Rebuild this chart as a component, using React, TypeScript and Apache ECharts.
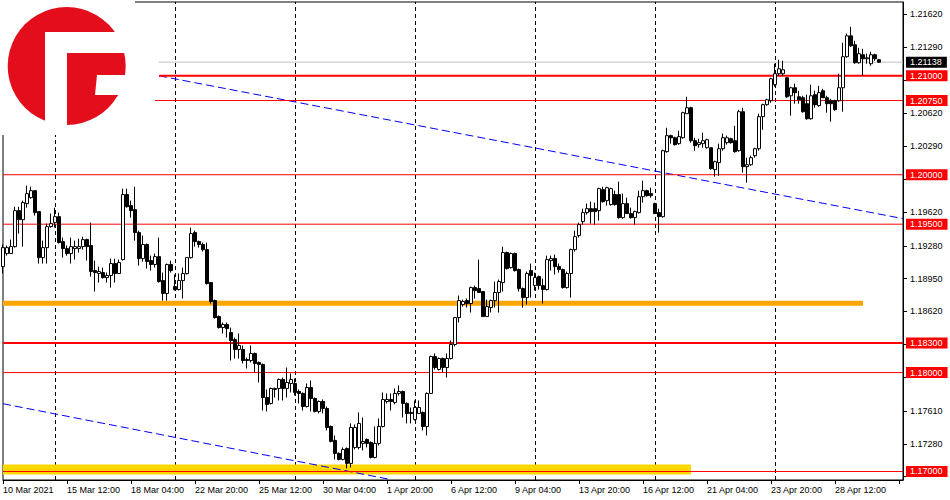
import React, { useEffect, useRef } from "react";
import * as echarts from "echarts";

// ---- Candle data (EURUSD H4) ----
const OPEN = [
  1.19071, 1.19203, 1.19203, 1.19273, 1.19637, 1.19546, 1.19708, 1.19768, 1.19839, 1.19627,
  1.19162, 1.19263, 1.19475, 1.19516, 1.19576, 1.19324, 1.19253, 1.19203, 1.19253, 1.19253,
  1.19273, 1.19344, 1.19284, 1.19031, 1.19001, 1.19011, 1.1896, 1.18981, 1.19102, 1.19001,
  1.19142, 1.19799, 1.19688, 1.19647, 1.19415, 1.19152, 1.19294, 1.19132, 1.19092, 1.19172,
  1.1893, 1.18799, 1.19092, 1.18869, 1.18839, 1.1893, 1.19001, 1.19162, 1.19415, 1.19324,
  1.19294, 1.19243, 1.1891, 1.18728, 1.18566, 1.18455, 1.18486, 1.18405, 1.18334, 1.18233,
  1.18233, 1.18132, 1.18122, 1.18193, 1.18102, 1.18082, 1.17748, 1.17688, 1.17829, 1.17839,
  1.1793, 1.17839, 1.1789, 1.1789, 1.17809, 1.17789, 1.17657, 1.17849, 1.17738, 1.17607,
  1.17708, 1.17637, 1.17455, 1.17314, 1.17183, 1.17122, 1.17233, 1.17082, 1.17243, 1.17243,
  1.17284, 1.17324, 1.17294, 1.17142, 1.17284, 1.17455, 1.17708, 1.17728, 1.17698, 1.17789,
  1.17809, 1.17688, 1.17597, 1.17526, 1.17587, 1.17597, 1.17455, 1.17789, 1.18162, 1.18031,
  1.18142, 1.18051, 1.18142, 1.18284, 1.18556, 1.18688, 1.18728, 1.18698, 1.18859, 1.18849,
  1.18819, 1.18566, 1.18657, 1.18728, 1.18809, 1.1891, 1.19213, 1.19061, 1.19203, 1.19041,
  1.18849, 1.18758, 1.19031, 1.18879, 1.1897, 1.18879, 1.18839, 1.19132, 1.19152, 1.19071,
  1.19041, 1.18859, 1.19001, 1.19243, 1.19385, 1.19526, 1.19617, 1.19657, 1.19657, 1.19637,
  1.19849, 1.19738, 1.19698, 1.19799, 1.19799, 1.19566, 1.19708, 1.19607, 1.19566, 1.19617,
  1.19778, 1.19839, 1.19809, 1.19708, 1.19617, 1.19576, 1.20233, 1.20395, 1.20374, 1.20314,
  1.20374, 1.20617, 1.20677, 1.20344, 1.20304, 1.20314, 1.20273, 1.20273, 1.20051, 1.20122,
  1.20263, 1.20324, 1.20364, 1.20344, 1.20243, 1.20637, 1.20081, 1.20101, 1.20192, 1.20263,
  1.20587, 1.20708, 1.20748, 1.2091, 1.21021, 1.21021, 1.2098, 1.20798, 1.20879, 1.20788,
  1.20778, 1.20718, 1.20566, 1.20809, 1.20698, 1.20849, 1.20778, 1.20748, 1.20748, 1.20748,
  1.20879, 1.21193, 1.21404, 1.21314, 1.21132, 1.21213, 1.21172, 1.21122, 1.21213, 1.21162,
];
const CLOSE = [
  1.19263, 1.19263, 1.19273, 1.19637, 1.19546, 1.19718, 1.19809, 1.19839, 1.19617, 1.19162,
  1.19263, 1.19475, 1.19506, 1.19576, 1.19314, 1.19253, 1.19203, 1.19273, 1.19273, 1.19273,
  1.19344, 1.19273, 1.19021, 1.19011, 1.19021, 1.1896, 1.18981, 1.19102, 1.19001, 1.19112,
  1.19799, 1.19677, 1.19637, 1.19415, 1.19152, 1.19294, 1.19122, 1.19092, 1.19172, 1.1892,
  1.18799, 1.19092, 1.19031, 1.18839, 1.1893, 1.19001, 1.19162, 1.19405, 1.19324, 1.19294,
  1.19243, 1.189, 1.18718, 1.18556, 1.18455, 1.18486, 1.18445, 1.18324, 1.18233, 1.18274,
  1.18122, 1.18122, 1.18193, 1.18092, 1.18082, 1.17748, 1.17678, 1.17839, 1.17839, 1.1793,
  1.17839, 1.179, 1.1793, 1.17799, 1.17789, 1.17657, 1.17849, 1.17738, 1.17607, 1.17708,
  1.17637, 1.17445, 1.17304, 1.17183, 1.17122, 1.17223, 1.17082, 1.17445, 1.17445, 1.17486,
  1.17304, 1.17284, 1.17142, 1.17284, 1.17455, 1.17728, 1.17728, 1.17708, 1.17789, 1.17809,
  1.17688, 1.17587, 1.17587, 1.17647, 1.17647, 1.17455, 1.17789, 1.18162, 1.18051, 1.18142,
  1.18051, 1.18142, 1.18284, 1.18556, 1.18728, 1.18718, 1.18698, 1.18859, 1.18829, 1.18809,
  1.18566, 1.18667, 1.18728, 1.18809, 1.1892, 1.19213, 1.19051, 1.19203, 1.19031, 1.18849,
  1.18758, 1.19001, 1.18981, 1.1896, 1.18879, 1.18839, 1.19142, 1.19152, 1.19071, 1.19041,
  1.18859, 1.19001, 1.19243, 1.19374, 1.19496, 1.19617, 1.19657, 1.19627, 1.19627, 1.19859,
  1.19728, 1.19869, 1.19859, 1.19698, 1.19566, 1.19708, 1.19607, 1.19566, 1.19627, 1.19778,
  1.19839, 1.19789, 1.19789, 1.19607, 1.19576, 1.20243, 1.20395, 1.20374, 1.20304, 1.20385,
  1.20627, 1.20677, 1.20344, 1.20294, 1.20324, 1.20344, 1.20354, 1.20061, 1.20132, 1.20263,
  1.20374, 1.20374, 1.20324, 1.20233, 1.20637, 1.20081, 1.20101, 1.20172, 1.20263, 1.20587,
  1.20708, 1.20758, 1.2097, 1.21021, 1.21071, 1.21061, 1.20788, 1.20879, 1.20829, 1.20758,
  1.20637, 1.20566, 1.20798, 1.20708, 1.20829, 1.20778, 1.20718, 1.20718, 1.20657, 1.20879,
  1.21193, 1.21404, 1.21303, 1.21132, 1.21223, 1.21172, 1.21182, 1.21213, 1.21172, 1.21138,
];
const LOW = [
  1.19001, 1.19182, 1.19203, 1.19263, 1.19405, 1.19273, 1.19667, 1.19758, 1.19587, 1.19102,
  1.19102, 1.19102, 1.19465, 1.19465, 1.19304, 1.19162, 1.19182, 1.19102, 1.19142, 1.19213,
  1.19243, 1.19132, 1.1897, 1.18819, 1.1891, 1.1895, 1.1891, 1.18859, 1.1891, 1.19001,
  1.19132, 1.19667, 1.19566, 1.19334, 1.19082, 1.19122, 1.19051, 1.19031, 1.19061, 1.1891,
  1.18728, 1.18728, 1.19011, 1.18829, 1.18829, 1.18748, 1.18991, 1.19152, 1.19273, 1.19263,
  1.19223, 1.1889, 1.18698, 1.18546, 1.18445, 1.18395, 1.18354, 1.18122, 1.18142, 1.18142,
  1.18092, 1.18041, 1.18102, 1.18001, 1.179, 1.17617, 1.17607, 1.17678, 1.17748, 1.17718,
  1.17718, 1.17748, 1.17799, 1.17768, 1.17688, 1.17617, 1.17647, 1.17607, 1.17597, 1.17587,
  1.17587, 1.17415, 1.17294, 1.17122, 1.17112, 1.17112, 1.17031, 1.17041, 1.17223, 1.17223,
  1.17213, 1.17243, 1.17132, 1.17132, 1.17263, 1.17445, 1.17688, 1.17617, 1.17678, 1.17768,
  1.17546, 1.17486, 1.17486, 1.17516, 1.17587, 1.17415, 1.17364, 1.17789, 1.18031, 1.18021,
  1.18001, 1.1795, 1.18132, 1.18264, 1.18506, 1.18667, 1.18657, 1.18607, 1.18748, 1.18809,
  1.18566, 1.18566, 1.18607, 1.18657, 1.18607, 1.18819, 1.19041, 1.19051, 1.19021, 1.18819,
  1.18657, 1.18688, 1.18758, 1.18829, 1.18839, 1.18698, 1.18829, 1.19031, 1.18991, 1.19011,
  1.18849, 1.18849, 1.18758, 1.19223, 1.19364, 1.19496, 1.19597, 1.19506, 1.19496, 1.19536,
  1.19718, 1.19688, 1.19688, 1.19688, 1.19556, 1.19556, 1.19607, 1.19556, 1.19496, 1.19607,
  1.19718, 1.19778, 1.19768, 1.19607, 1.19415, 1.19566, 1.20223, 1.20314, 1.20294, 1.20304,
  1.20364, 1.20617, 1.20324, 1.20243, 1.20273, 1.20273, 1.20263, 1.20051, 1.1998, 1.1999,
  1.20243, 1.20304, 1.20314, 1.20223, 1.20233, 1.20021, 1.1992, 1.20091, 1.20172, 1.20243,
  1.20455, 1.20698, 1.20728, 1.20889, 1.21, 1.21, 1.20778, 1.20597, 1.20718, 1.20718,
  1.20627, 1.20556, 1.20556, 1.20677, 1.20687, 1.20778, 1.20627, 1.20536, 1.20647, 1.20738,
  1.20637, 1.21182, 1.21293, 1.21122, 1.21122, 1.21, 1.21122, 1.21101, 1.21152, 1.21132,
];
const HIGH = [
  1.19294, 1.19284, 1.19344, 1.19677, 1.19677, 1.19738, 1.1989, 1.19879, 1.19839, 1.19627,
  1.19334, 1.19506, 1.19607, 1.19667, 1.19617, 1.19364, 1.19284, 1.19364, 1.19334, 1.19354,
  1.19374, 1.19354, 1.19516, 1.19132, 1.19071, 1.19061, 1.19011, 1.19152, 1.19152, 1.19142,
  1.19859, 1.19859, 1.19738, 1.19879, 1.19435, 1.19385, 1.19304, 1.19182, 1.19203, 1.19364,
  1.19011, 1.19102, 1.19132, 1.18991, 1.19001, 1.19061, 1.19162, 1.19465, 1.19435, 1.19334,
  1.19314, 1.19314, 1.1891, 1.18738, 1.18577, 1.18506, 1.18506, 1.18455, 1.18354, 1.18395,
  1.18274, 1.18152, 1.18274, 1.18203, 1.18112, 1.18092, 1.17829, 1.17849, 1.17849, 1.1794,
  1.1795, 1.18051, 1.17991, 1.1794, 1.17829, 1.17799, 1.1789, 1.1792, 1.17748, 1.17718,
  1.17728, 1.17657, 1.17465, 1.17364, 1.17193, 1.17243, 1.17243, 1.17486, 1.17476, 1.17597,
  1.17546, 1.17334, 1.17304, 1.17455, 1.17536, 1.17799, 1.17789, 1.17789, 1.17839, 1.1787,
  1.17819, 1.17698, 1.17647, 1.17718, 1.17718, 1.17607, 1.17799, 1.18172, 1.18193, 1.18152,
  1.18152, 1.18193, 1.18324, 1.18556, 1.18778, 1.18738, 1.18748, 1.18869, 1.18879, 1.19142,
  1.18819, 1.18738, 1.18738, 1.1892, 1.1894, 1.19273, 1.19223, 1.19213, 1.19213, 1.19051,
  1.18859, 1.19021, 1.19102, 1.19011, 1.18981, 1.1895, 1.19182, 1.19182, 1.19192, 1.19102,
  1.19051, 1.19021, 1.19253, 1.19435, 1.19516, 1.19657, 1.19708, 1.19728, 1.19718, 1.19869,
  1.19879, 1.19879, 1.19869, 1.19839, 1.1993, 1.19809, 1.19768, 1.19667, 1.19637, 1.19839,
  1.1994, 1.19849, 1.19869, 1.19718, 1.19657, 1.20253, 1.20475, 1.20405, 1.20385, 1.20445,
  1.20637, 1.20788, 1.20687, 1.20374, 1.20364, 1.20425, 1.20364, 1.20273, 1.20142, 1.20314,
  1.20415, 1.20395, 1.20374, 1.20495, 1.20657, 1.20677, 1.20172, 1.20192, 1.20273, 1.20617,
  1.20718, 1.20768, 1.2098, 1.21122, 1.21162, 1.21152, 1.2098, 1.20889, 1.2092, 1.20849,
  1.20798, 1.20809, 1.2091, 1.20849, 1.20899, 1.20869, 1.20798, 1.20768, 1.20758, 1.21021,
  1.21334, 1.21425, 1.21495, 1.21354, 1.21283, 1.21273, 1.21223, 1.21243, 1.21223, 1.21172,
];

// ---- Axis tick labels ----
const X_TICK_LABELS = [
  "10 Mar 2021", "15 Mar 12:00", "18 Mar 04:00", "22 Mar 20:00", "25 Mar 12:00",
  "30 Mar 04:00", "1 Apr 20:00", "6 Apr 12:00", "9 Apr 04:00", "13 Apr 20:00",
  "16 Apr 12:00", "21 Apr 04:00", "23 Apr 20:00", "28 Apr 12:00",
];
const Y_TICK_VALUES = [
  1.2162, 1.2129, 1.2095, 1.2062, 1.2029, 1.1995, 1.1962, 1.1928,
  1.1895, 1.1862, 1.1829, 1.1795, 1.1761, 1.1728, 1.1695,
];
const Y_LABEL_VALUES = [
  1.2162, 1.2129, 1.2062, 1.2029, 1.1962, 1.1928, 1.1895, 1.1862, 1.1761, 1.1728,
];

// ---- Horizontal levels & drawn objects ----
const RED_LEVELS = [1.21, 1.2075, 1.2, 1.195, 1.183, 1.18, 1.17];
const RED_LEVEL_START_BAR = [39, 38, 0, 0, 0, 0, 0];
const RED_LEVEL_BOLD = [true, false, false, false, true, false, false];
const BID_PRICE = 1.21138;
const BID_START_BAR = 39;
const ORANGE_ZONE = { price: 1.187, fromBar: 0, toBar: 215 };
const YELLOW_ZONE = { price: 1.1702, fromBar: 0, toBar: 172 };
const UPPER_TREND = [[39, 1.21], [225, 1.19556]];
const LOWER_TREND = [[0, 1.17685], [97, 1.16918]];
const WEEK_START_BARS = [13, 43, 73, 103, 133, 163, 193];

const TOTAL_SLOTS = 226;
const MONTHS = ["Jan", "Feb", "Mar", "Apr", "May", "Jun", "Jul", "Aug", "Sep", "Oct", "Nov", "Dec"];
const CATEGORIES: string[] = (() => {
  const out: string[] = [];
  let t = Date.UTC(2021, 2, 10, 20);
  while (out.length < TOTAL_SLOTS) {
    const d = new Date(t);
    const wd = d.getUTCDay();
    if (wd !== 0 && wd !== 6) {
      const hh = String(d.getUTCHours()).padStart(2, "0");
      out.push(`${d.getUTCDate()} ${MONTHS[d.getUTCMonth()]} ${hh}:00`);
    }
    t += 4 * 3600 * 1000;
  }
  return out;
})();

const FONT = "'Liberation Sans', Arial, sans-serif";

export default function App() {
  const ref = useRef<HTMLDivElement>(null);
  useEffect(() => {
    document.body.style.margin = "0";
    if (!ref.current) return;
    const chart = echarts.init(ref.current, undefined, { renderer: "svg" });

    const candleData = OPEN.map((o, i) => [o, CLOSE[i], LOW[i], HIGH[i]]);
    const lastBar = TOTAL_SLOTS - 1;

    const priceLabel = (text: string, bg: string) => ({
      show: true,
      distance: 3,
      formatter: text,
      color: "#fff",
      backgroundColor: bg,
      padding: [1, 5, 1, 4],
      fontSize: 9,
      fontFamily: FONT,
    });

    const segment = (
      pts: number[][],
      color: string,
      width: number,
      type: any,
      label?: any
    ) => ({
      type: "line",
      data: pts,
      symbol: "none",
      showSymbol: false,
      silent: true,
      clip: false,
      z: 1,
      lineStyle: { color, width, type },
      itemStyle: { color },
      endLabel: label || { show: false },
      emphasis: { disabled: true },
    });

    const series: any[] = [];
    series.push(segment([[YELLOW_ZONE.fromBar, YELLOW_ZONE.price], [YELLOW_ZONE.toBar, YELLOW_ZONE.price]], "#FFD700", 10, "solid"));
    series.push(segment([[ORANGE_ZONE.fromBar, ORANGE_ZONE.price], [ORANGE_ZONE.toBar, ORANGE_ZONE.price]], "#FFA500", 5, "solid"));
    series.push(segment(UPPER_TREND, "#0000FF", 1, [8, 4]));
    series.push(segment(LOWER_TREND, "#0000FF", 1, [8, 4]));
    series.push(segment([[BID_START_BAR, BID_PRICE], [lastBar, BID_PRICE]], "#C0C0C0", 1, "solid", priceLabel(BID_PRICE.toFixed(5), "#000")));
    RED_LEVELS.forEach((p, k) => {
      series.push(
        segment([[RED_LEVEL_START_BAR[k], p], [lastBar, p]], "#FF0000", RED_LEVEL_BOLD[k] ? 2 : 1, "solid", priceLabel(p.toFixed(5), "#FF0000"))
      );
    });
    series.push({
      type: "candlestick",
      data: candleData,
      barWidth: 3,
      z: 3,
      silent: true,
      itemStyle: {
        color: "#fff",
        color0: "#000",
        borderColor: "#000",
        borderColor0: "#000",
        borderWidth: 1,
      },
      markLine: {
        silent: true,
        z: 1,
        symbol: ["none", "none"],
        animation: false,
        label: { show: false },
        lineStyle: { color: "#000", width: 1, type: [4, 3] },
        data: WEEK_START_BARS.map((b) => ({ xAxis: b })),
      },
    });

    chart.setOption({
      animation: false,
      backgroundColor: "#fff",
      grid: {
        left: 3,
        right: 47,
        top: 2,
        bottom: 20,
        show: true,
        borderColor: "#000",
        borderWidth: 1,
      },
      xAxis: {
        type: "category",
        data: CATEGORIES,
        boundaryGap: false,
        axisLine: { show: true, lineStyle: { color: "#000", width: 1 } },
        axisTick: { show: true, interval: 15, length: 4, lineStyle: { color: "#000" } },
        axisLabel: {
          interval: 15,
          align: "left",
          margin: 5,
          color: "#000",
          fontSize: 9,
          fontFamily: FONT,
          formatter: (_v: string, idx: number) => X_TICK_LABELS[idx / 16] || "",
        },
        splitLine: { show: false },
      },
      yAxis: {
        type: "value",
        position: "right",
        min: 1.16914,
        max: 1.21746,
        scale: true,
        axisLine: { show: true, lineStyle: { color: "#000", width: 1 } },
        axisTick: { show: true, length: 4, customValues: Y_TICK_VALUES, lineStyle: { color: "#000" } },
        axisLabel: {
          customValues: Y_LABEL_VALUES,
          margin: 7,
          color: "#000",
          fontSize: 9,
          fontFamily: FONT,
          formatter: (v: number) => v.toFixed(5),
        },
        splitLine: { show: false },
      },
      series,
      graphic: [
        { type: "rect", shape: { x: 0, y: 0, width: 135, height: 135 }, style: { fill: "#fff" }, z: 100 },
        { type: "circle", shape: { cx: 66.7, cy: 66, r: 59 }, style: { fill: "#E30D1C" }, z: 101 },
        { type: "rect", shape: { x: 45, y: 32, width: 22, height: 100 }, style: { fill: "#fff" }, z: 102 },
        { type: "rect", shape: { x: 45, y: 32, width: 85, height: 21 }, style: { fill: "#fff" }, z: 102 },
        { type: "polygon", shape: { points: [[97, 75], [130, 75], [130, 95], [95, 95]] }, style: { fill: "#fff" }, z: 102 },
      ],
    });
    return () => chart.dispose();
  }, []);
  return <div ref={ref} style={{ width: 950, height: 500 }} />;
}
